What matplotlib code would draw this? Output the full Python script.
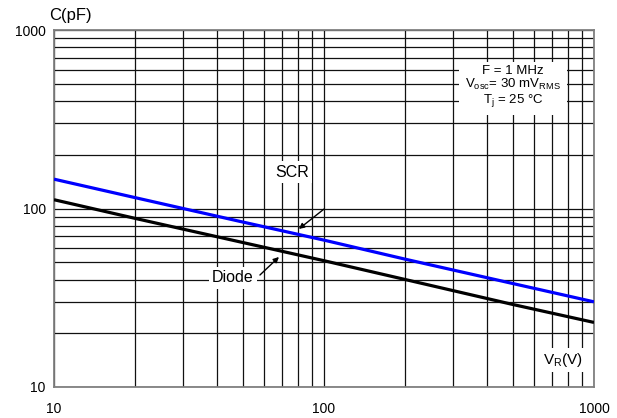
import matplotlib
matplotlib.use("Agg")
import matplotlib.pyplot as plt
import numpy as np
from matplotlib.ticker import LogLocator, NullFormatter, FixedLocator, FixedFormatter

plt.rcParams['font.family'] = ['Liberation Sans', 'DejaVu Sans']
plt.rcParams['mathtext.fontset'] = 'custom'
plt.rcParams['mathtext.rm'] = 'Liberation Sans'
plt.rcParams['mathtext.it'] = 'Liberation Sans'

# reverse voltage (V) and capacitance (pF)
vr = [10, 20, 50, 100, 200, 500, 1000]
c_scr = [146, 115, 84, 66.5, 52, 38, 30]
c_diode = [112, 88, 64.5, 51, 40, 29, 23]

x_ticks = [10, 100, 1000]
y_ticks = [10, 100, 1000]

fig = plt.figure(figsize=(6.17, 4.18), dpi=100)
ax = fig.add_axes([54 / 617, 31 / 418, 540 / 617, 357 / 418])
ax.set_xscale('log')
ax.set_yscale('log')
ax.set_xlim(10, 1000)
ax.set_ylim(10, 1000)

ax.xaxis.set_major_locator(FixedLocator(x_ticks))
ax.xaxis.set_major_formatter(FixedFormatter([str(v) for v in x_ticks]))
ax.yaxis.set_major_locator(FixedLocator(y_ticks))
ax.yaxis.set_major_formatter(FixedFormatter([str(v) for v in y_ticks]))
for axis in (ax.xaxis, ax.yaxis):
    axis.set_minor_locator(LogLocator(base=10, subs=np.arange(2, 10)))
    axis.set_minor_formatter(NullFormatter())

ax.grid(True, which='both', color='#111111', lw=0.9)
ax.set_axisbelow(True)
ax.tick_params(which='both', length=0, labelsize=10)
ax.tick_params(axis='x', pad=11)
ax.tick_params(axis='y', pad=6)
for sp in ax.spines.values():
    sp.set_color('#808080')
    sp.set_linewidth(1.3)

ax.plot(vr, c_scr, color='#0000ff', lw=2.3, solid_capstyle='butt', zorder=3)
ax.plot(vr, c_diode, color='black', lw=2.3, solid_capstyle='butt', zorder=3)

box = dict(boxstyle='square,pad=0.2', fc='white', ec='none')
arrow = dict(arrowstyle='-|>', color='black', lw=1.0, mutation_scale=8,
             shrinkA=0, shrinkB=0)

ax.text(76, 160, 'SCR', ha='center', va='center', fontsize=11.5, bbox=box, zorder=4)
ax.annotate('', xy=(80.7, 76.8), xytext=(100, 99.3), arrowprops=arrow, zorder=4)

ax.text(46, 40.8, 'Diode', ha='center', va='center', fontsize=11.5, bbox=box, zorder=4)
ax.annotate('', xy=(68.1, 53.5), xytext=(57.9, 42.4), arrowprops=arrow, zorder=4)

ax.text(0.943, 0.076, r'V$_{\rm R}$(V)', transform=ax.transAxes, ha='center',
        va='center', fontsize=11, bbox=box, zorder=4)

ax.text(0.85, 0.84, 'F = 1 MHz\n' + r'V$_{\rm osc}$= 30 mV$_{\rm RMS}$' + '\n'
        + r'T$_{\rm j}$ = 25 °C', transform=ax.transAxes, ha='center', va='center',
        fontsize=9.5, linespacing=1.0,
        bbox=dict(boxstyle='square,pad=0.45', fc='white', ec='none'), zorder=4)

ax.text(-0.009, 1.029, 'C(pF)', transform=ax.transAxes, ha='left',
        va='baseline', fontsize=12)

fig.savefig('out.png', dpi=100)
